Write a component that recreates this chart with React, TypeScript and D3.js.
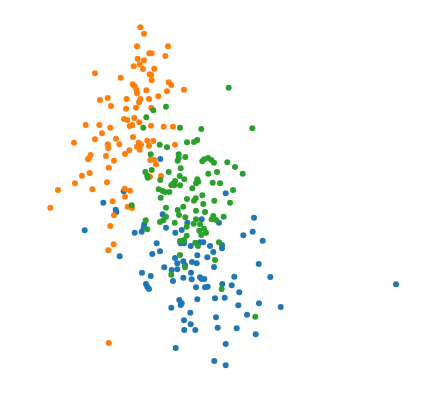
import React from 'react';
import * as d3 from 'd3';

// three clusters, values (arbitrary units)
const blueX = [12.03, 8.37, 6.33, 7.57, 7.63, 12.27, 14.73, 4.47, 10.43, 10.37, 9.47, 10.17, 12.6, 13.53, 14.17, 18.57, 21.4, 16.17, 17.9, 21.27, 20.33, 22.27, 16.0, 16.33, 14.05, 14.4, 15.07, 17.0, 18.2, 18.2, 17.33, 15.73, 16.73, 15.2, 14.33, 14.5, 21.87, 17.4, 7.97, 11.67, 11.23, 12.0, 13.5, 13.73, 12.43, 13.17, 13.3, 13.73, 15.1, 15.17, 14.33, 15.67, 10.2, 11.07, 10.6, 10.73, 10.9, 15.6, 13.93, 14.17, 14.07, 15.73, 13.13, 15.03, 14.4, 15.07, 14.43, 15.53, 13.57, 16.0, 16.43, 16.17, 19.43, 23.03, 16.5, 16.77, 18.23, 19.17, 19.93, 17.5, 18.47, 19.83, 21.9, 24.07, 20.7, 17.6, 17.77, 19.67, 21.57, 18.57, 17.43, 18.57, 35.6];
const blueY = [21.1, 17.87, 16.73, 16.03, 15.77, 15.57, 14.73, 13.97, 14.57, 14.23, 13.73, 13.83, 14.23, 13.73, 14.0, 17.67, 15.23, 15.07, 14.73, 13.83, 13.47, 12.93, 12.77, 12.77, 12.67, 12.67, 12.4, 12.4, 12.5, 12.17, 11.8, 11.47, 11.27, 10.8, 10.87, 10.47, 10.6, 10.3, 11.37, 12.67, 11.6, 11.87, 11.2, 10.67, 10.27, 10.0, 8.9, 10.07, 9.73, 9.07, 9.23, 10.67, 9.73, 9.4, 8.6, 8.33, 8.1, 8.27, 7.0, 6.67, 6.5, 7.07, 6.23, 5.73, 4.97, 4.57, 4.0, 4.0, 2.2, 9.27, 9.1, 9.1, 9.33, 9.3, 8.27, 8.33, 8.6, 8.47, 7.77, 7.17, 7.23, 6.47, 6.67, 6.3, 5.53, 5.27, 4.23, 4.17, 3.57, 2.6, 0.9, 0.47, 8.57];

const orangeX = [10.03, 10.4, 9.7, 12.8, 10.93, 11.17, 12.53, 9.77, 10.4, 9.97, 9.37, 10.3, 11.43, 5.5, 10.97, 11.13, 8.07, 11.17, 12.87, 13.13, 9.27, 9.47, 9.63, 9.7, 10.63, 14.4, 12.7, 11.83, 6.0, 6.77, 8.67, 10.03, 9.9, 10.9, 7.1, 8.6, 9.6, 11.13, 8.4, 8.73, 9.43, 9.93, 8.97, 9.23, 4.57, 5.93, 7.03, 11.1, 12.37, 13.3, 3.4, 5.5, 6.2, 7.6, 6.77, 6.83, 7.93, 9.3, 9.87, 10.1, 9.7, 10.73, 11.33, 10.9, 13.5, 8.93, 8.5, 9.97, 5.07, 4.9, 4.8, 6.6, 7.4, 11.03, 11.4, 11.6, 6.87, 4.97, 4.2, 11.0, 12.1, 3.5, 6.7, 1.8, 5.23, 8.47, 9.0, 8.5, 7.27, 8.77, 9.2, 7.4, 1.03, 7.03, 7.37, 6.83, 6.87];
const orangeY = [34.27, 33.63, 32.37, 32.37, 31.67, 31.67, 31.4, 31.13, 30.97, 30.57, 30.37, 30.1, 30.13, 29.67, 29.57, 29.5, 29.23, 28.97, 28.77, 28.5, 28.57, 28.37, 28.03, 27.67, 27.97, 28.03, 27.87, 27.37, 27.0, 27.2, 27.1, 27.1, 26.77, 27.1, 26.4, 26.13, 26.23, 26.23, 25.1, 25.0, 25.2, 24.77, 24.4, 24.5, 24.5, 24.5, 24.23, 24.43, 24.33, 24.33, 22.73, 23.07, 23.67, 23.13, 22.57, 22.17, 22.57, 23.3, 22.73, 22.5, 22.33, 22.93, 22.9, 22.43, 22.53, 21.97, 21.6, 22.03, 21.5, 21.17, 21.07, 21.4, 20.93, 21.0, 21.03, 20.57, 20.23, 19.7, 19.43, 19.33, 19.4, 18.67, 18.77, 18.0, 18.07, 18.13, 17.93, 17.33, 16.87, 16.33, 16.2, 15.47, 16.23, 14.4, 12.57, 11.97, 2.7];

const greenX = [11.33, 12.6, 10.63, 10.33, 14.0, 18.87, 16.13, 21.23, 15.4, 15.73, 11.97, 12.7, 14.7, 11.07, 13.87, 13.87, 13.77, 14.53, 16.23, 16.43, 16.8, 17.13, 17.4, 18.73, 19.5, 14.07, 10.53, 10.73, 10.77, 11.17, 12.87, 12.03, 13.97, 13.5, 13.27, 13.13, 13.43, 14.43, 14.0, 16.83, 17.7, 20.27, 15.73, 15.83, 15.6, 17.27, 18.0, 15.23, 19.3, 11.87, 12.27, 12.47, 12.93, 12.07, 14.7, 16.23, 15.57, 15.4, 17.43, 16.33, 19.0, 12.6, 14.33, 9.17, 13.77, 13.9, 15.6, 16.5, 12.6, 12.33, 12.0, 13.47, 14.53, 10.57, 10.73, 14.67, 17.33, 17.17, 17.6, 18.37, 15.6, 15.37, 16.0, 16.4, 16.6, 15.93, 16.13, 14.67, 14.4, 14.0, 15.53, 15.8, 17.9, 14.0, 17.5, 14.5, 13.13, 18.17, 21.53];
const greenY = [25.97, 26.33, 25.27, 24.23, 24.23, 28.23, 24.1, 24.17, 22.8, 23.0, 22.53, 22.27, 22.77, 21.57, 21.57, 21.2, 20.93, 21.3, 20.87, 21.07, 21.2, 21.0, 20.73, 20.77, 20.3, 20.17, 19.8, 19.43, 19.23, 20.0, 19.8, 19.0, 19.4, 18.9, 18.6, 18.47, 18.47, 19.07, 18.47, 19.63, 19.8, 19.63, 19.07, 18.83, 18.67, 18.73, 18.67, 18.17, 18.0, 18.07, 17.9, 17.8, 17.8, 17.23, 17.1, 17.47, 17.17, 16.93, 16.93, 16.6, 16.73, 16.23, 16.33, 16.47, 16.0, 15.5, 15.93, 15.8, 15.33, 14.97, 14.8, 14.73, 15.27, 14.97, 14.07, 14.33, 15.4, 15.07, 15.0, 15.33, 15.07, 14.63, 14.57, 14.13, 13.73, 13.93, 13.5, 13.43, 13.0, 12.9, 12.73, 12.4, 12.77, 11.5, 11.0, 10.27, 9.53, 8.1, 5.33];

const series = [
  { name: 'blue', color: '#1f77b4', xs: blueX, ys: blueY },
  { name: 'orange', color: '#ff7f0e', xs: orangeX, ys: orangeY },
  { name: 'green', color: '#2ca02c', xs: greenX, ys: greenY },
];

const width = 423;
const height = 403;

const App = () => {
  const x = d3.scaleLinear().domain([0, 37]).range([40, 410]);
  const y = d3.scaleLinear().domain([0, 35]).range([370, 20]);

  return (
    <svg
      width={width}
      height={height}
      style={{ position: 'absolute', left: 0, top: 0, background: '#fff' }}
    >
      {series.map((s) => (
        <g key={s.name} fill={s.color}>
          {s.xs.map((v, i) => (
            <circle key={i} cx={x(v)} cy={y(s.ys[i])} r={3} />
          ))}
        </g>
      ))}
    </svg>
  );
};

export default App;
